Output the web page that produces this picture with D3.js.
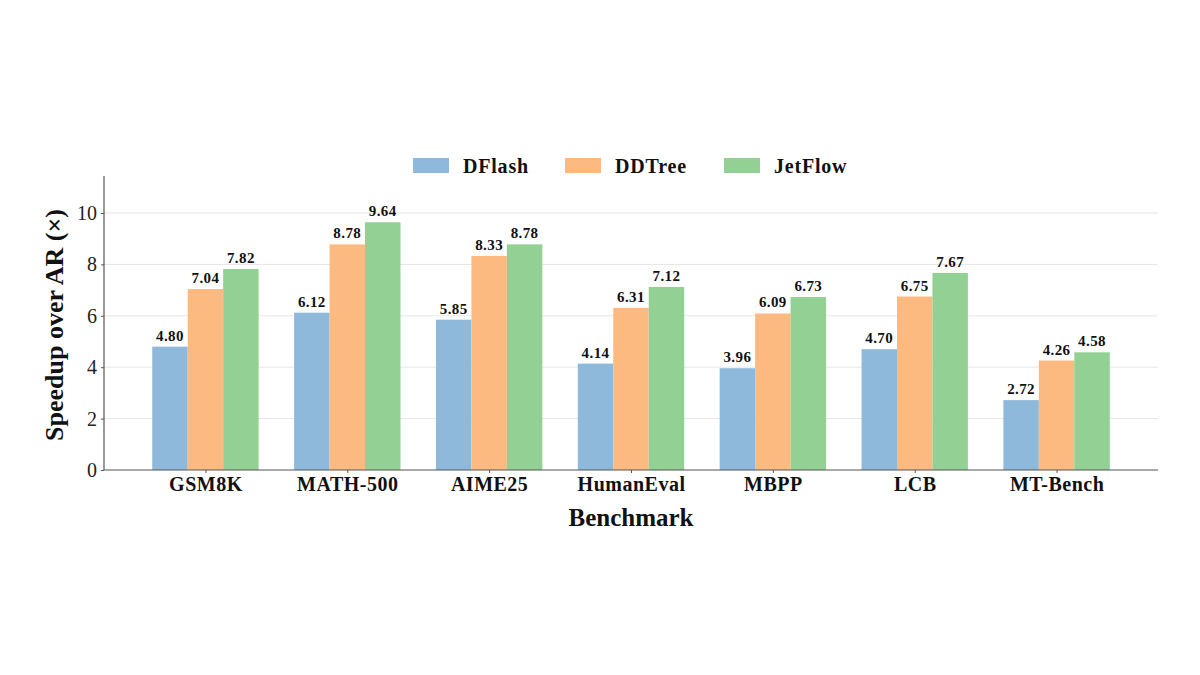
<!DOCTYPE html>
<html>
<head>
<meta charset="utf-8">
<script src="https://cdn.jsdelivr.net/npm/d3@7"></script>
<style>
  body { margin: 0; background: #fff; }
  text { font-family: "Liberation Serif", "DejaVu Serif", serif; }
</style>
</head>
<body>
<div id="chart"></div>
<script>
// speedup over AR, per benchmark

const benchmarks = ["GSM8K", "MATH-500", "AIME25", "HumanEval", "MBPP", "LCB", "MT-Bench"]
const dflash = [4.80, 6.12, 5.85, 4.14, 3.96, 4.70, 2.72]
const ddtree = [7.04, 8.78, 8.33, 6.31, 6.09, 6.75, 4.26]
const jetflow = [7.82, 9.64, 8.78, 7.12, 6.73, 7.67, 4.58]
const seriesNames = ["DFlash", "DDTree", "JetFlow"]
const yTicks = [0, 2, 4, 6, 8, 10]

const colors = ["#8fb9da", "#fdba80", "#92d093"]
const series = [dflash, ddtree, jetflow]

const W = 1200, H = 675
const padL = 104, padR = 1158, padT = 176, padB = 470

const svg = d3.select("#chart").append("svg")
    .attr("width", W).attr("height", H)

const x = d3.scaleLinear().domain([-0.715, benchmarks.length - 1 + 0.715]).range([padL, padR])
const y = d3.scaleLinear().domain([0, 11.44]).range([padB, padT])
const barW = 0.25

// grid
svg.append("g").selectAll("line")
    .data(yTicks.slice(1))
    .join("line")
    .attr("x1", padL).attr("x2", padR)
    .attr("y1", d => y(d)).attr("y2", d => y(d))
    .style("stroke", "#e6e6e6")
    .style("stroke-width", 1)

// bars
series.forEach((vals, s) => {
    const off = (s - 1) * barW
    svg.append("g").selectAll("rect")
        .data(vals)
        .join("rect")
        .attr("x", (d, i) => x(i + off - barW / 2))
        .attr("width", x(barW) - x(0))
        .attr("y", d => y(d))
        .attr("height", d => y(0) - y(d))
        .style("fill", colors[s])

    svg.append("g").selectAll("text")
        .data(vals)
        .join("text")
        .attr("x", (d, i) => x(i + off))
        .attr("y", d => y(d) - 6)
        .attr("text-anchor", "middle")
        .style("font-size", "15px")
        .style("font-weight", "bold")
        .style("letter-spacing", "0.4px")
        .style("fill", "#111")
        .text(d => d.toFixed(2))
})

// axes
const yAxis = d3.axisLeft(y).tickValues(yTicks).tickSize(3).tickPadding(4)
const gy = svg.append("g").attr("transform", "translate(" + padL + ",0)").call(yAxis)
gy.select(".domain").attr("d", "M0," + padT + "V" + padB).style("stroke", "#555").style("stroke-width", 1.2)
gy.selectAll(".tick line").style("stroke", "#555")
gy.selectAll(".tick text").style("font-size", "20px").style("fill", "#222")
    .style("font-family", "Liberation Serif")

const xAxis = d3.axisBottom(x).tickValues(d3.range(benchmarks.length)).tickSize(3).tickPadding(4)
    .tickFormat(i => benchmarks[i])
const gx = svg.append("g").attr("transform", "translate(0," + padB + ")").call(xAxis)
gx.select(".domain").attr("d", "M" + padL + ",0H" + padR).style("stroke", "#555").style("stroke-width", 1.2)
gx.selectAll(".tick line").style("stroke", "#555")
gx.selectAll(".tick text").style("font-size", "20px").style("font-weight", "bold").style("fill", "#111")
    .style("letter-spacing", "0.5px")
    .style("font-family", "Liberation Serif")

// axis titles
svg.append("text")
    .attr("x", (padL + padR) / 2).attr("y", 526)
    .attr("text-anchor", "middle")
    .style("font-size", "25px").style("font-weight", "bold").style("fill", "#111")
    .text("Benchmark")

svg.append("text")
    .attr("transform", "translate(63," + ((padT + padB) / 2 + 2) + ") rotate(-90)")
    .attr("text-anchor", "middle")
    .style("font-size", "26px").style("font-weight", "bold").style("fill", "#111")
    .text("Speedup over AR (×)")

// legend
const legX = [413, 565, 724]
const leg = svg.append("g").selectAll("g")
    .data(seriesNames)
    .join("g")
    .attr("transform", (d, i) => "translate(" + legX[i] + ",158)")
leg.append("rect").attr("width", 36).attr("height", 15)
    .style("fill", (d, i) => colors[i])
leg.append("text").attr("x", 50).attr("y", 15)
    .style("font-size", "20px").style("font-weight", "bold").style("fill", "#111")
    .style("letter-spacing", "0.8px")
    .text(d => d)
</script>
</body>
</html>
